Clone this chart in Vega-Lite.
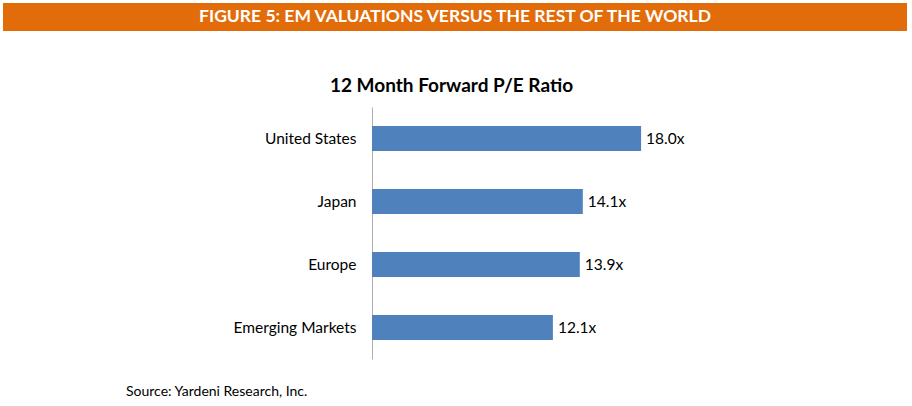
{
  "$schema": "https://vega.github.io/schema/vega-lite/v6.json",
  "padding": {"left": 3, "top": 3, "right": 5, "bottom": 0},
  "autosize": "pad",
  "spacing": 46,
  "config": {"view": {"stroke": null}, "font": "Lato"},
  "title": {"text": "Source: Yardeni Research, Inc.", "orient": "bottom", "anchor": "start", "frame": "bounds", "dx": 123, "offset": 26, "fontSize": 14, "fontWeight": "normal", "color": "#000000"},
  "vconcat": [
    {
      "width": 904,
      "height": 28,
      "view": {"fill": "#E36C0A", "stroke": null},
      "data": {"values": [{"t": "FIGURE 5: EM VALUATIONS VERSUS THE REST OF THE WORLD"}]},
      "mark": {"type": "text", "color": "white", "fontWeight": "bold", "fontSize": 17.5},
      "encoding": {"text": {"field": "t"}}
    },
    {
      "spacing": 0,
      "hconcat": [
        {
          "width": 230,
          "height": 10,
          "data": {"values": []},
          "mark": "point"
        },
        {
          "width": 299,
          "height": 252,
          "title": {"text": "12 Month Forward P/E Ratio", "fontSize": 19, "fontWeight": "bold", "anchor": "middle", "frame": "group", "dx": -70, "offset": 11, "color": "#000000"},
          "data": {"values": [
            {"region": "United States", "pe": 18.0, "label": "18.0x"},
            {"region": "Japan", "pe": 14.1, "label": "14.1x"},
            {"region": "Europe", "pe": 13.9, "label": "13.9x"},
            {"region": "Emerging Markets", "pe": 12.1, "label": "12.1x"}
          ]},
          "encoding": {
            "y": {"field": "region", "type": "nominal", "sort": null,
              "scale": {"paddingInner": 0.6, "paddingOuter": 0.3},
              "axis": {"title": null, "ticks": false, "labelPadding": 16, "labelFontSize": 15.5, "labelColor": "#000000", "domainColor": "#B0B0B0", "domainWidth": 1}},
            "x": {"field": "pe", "type": "quantitative",
              "scale": {"domain": [0, 20]},
              "axis": null}
          },
          "layer": [
            {"mark": {"type": "bar", "color": "#4F81BD"}},
            {"mark": {"type": "text", "align": "left", "dx": 5, "fontSize": 15.5, "color": "#000000"},
             "encoding": {"text": {"field": "label"}}}
          ]
        }
      ]
    }
  ]
}
